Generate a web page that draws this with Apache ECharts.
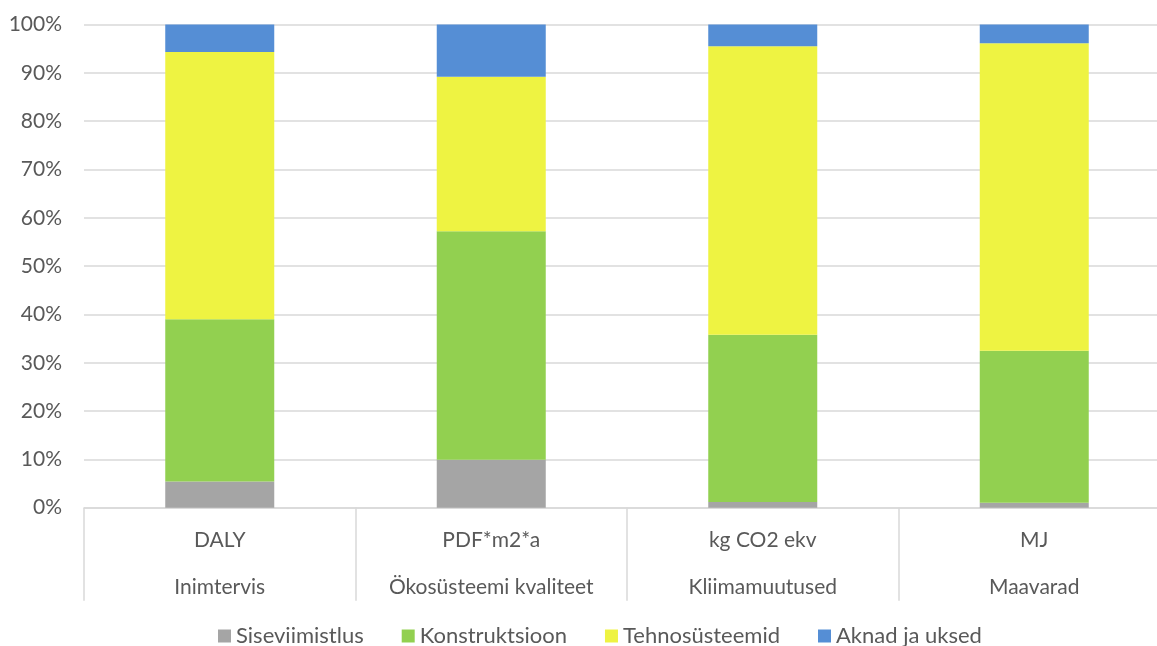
<!DOCTYPE html>
<html>
<head>
<meta charset="utf-8">
<script src="https://cdn.jsdelivr.net/npm/echarts@6/dist/echarts.min.js"></script>
<style>html,body{margin:0;padding:0;background:#fff;}#c{width:1157px;height:646px;}</style>
</head>
<body>
<div id="c"></div>
<script>
const units = ['DALY', 'PDF*m2*a', 'kg CO2 ekv', 'MJ'];
const groups = ['Inimtervis', 'Ökosüsteemi kvaliteet', 'Kliimamuutused', 'Maavarad'];
const seriesNames = ['Siseviimistlus', 'Konstruktsioon', 'Tehnosüsteemid', 'Aknad ja uksed'];
const siseviimistlus = [5.4, 9.9, 1.2, 1.0];
const konstruktsioon = [33.6, 47.3, 34.6, 31.5];
const tehnosusteemid = [55.3, 32.0, 59.7, 63.6];
const aknadJaUksed = [5.7, 10.8, 4.5, 3.9];
const yTicks = ['0%','10%','20%','30%','40%','50%','60%','70%','80%','90%','100%'];

const colors = ['#a5a5a5', '#92d050', '#eef342', '#558ed5'];
const values = [siseviimistlus, konstruktsioon, tehnosusteemid, aknadJaUksed];
const categories = units.map((u, i) => u + '\n' + groups[i]);

const chart = echarts.init(document.getElementById('c'));
chart.setOption({
  animation: false,
  color: colors,
  textStyle: { fontFamily: 'Lato, Open Sans, sans-serif', color: '#595959' },
  grid: { left: 84, top: 24.5, width: 1086, bottom: 138.3, containLabel: false, outerBoundsMode: 'none' },
  legend: {
    data: seriesNames,
    top: 620,
    left: 213,
    itemWidth: 13,
    itemHeight: 13,
    itemGap: 38,
    icon: 'rect',
    textStyle: { fontSize: 22, color: '#595959' }
  },
  xAxis: {
    type: 'category',
    data: categories,
    axisLine: { show: true, lineStyle: { color: '#d9d9d9', width: 1.5 } },
    axisTick: { show: true, length: 93, interval: 0, lineStyle: { color: '#d9d9d9', width: 1.5 } },
    axisLabel: { interval: 0, margin: 9, fontSize: 21, lineHeight: 47, color: '#595959' }
  },
  yAxis: {
    type: 'value',
    min: 0,
    max: 100,
    interval: 10,
    axisLine: { show: false },
    axisTick: { show: false },
    splitLine: { lineStyle: { color: '#d9d9d9', width: 1.5 } },
    axisLabel: {
      margin: 22,
      fontSize: 21,
      color: '#595959',
      formatter: v => yTicks[Math.round(v / 10)]
    }
  },
  series: seriesNames.map((n, i) => ({
    name: n,
    type: 'bar',
    stack: 'total',
    barWidth: 109,
    data: values[i],
    itemStyle: { color: colors[i] }
  }))
});
</script>
</body>
</html>
